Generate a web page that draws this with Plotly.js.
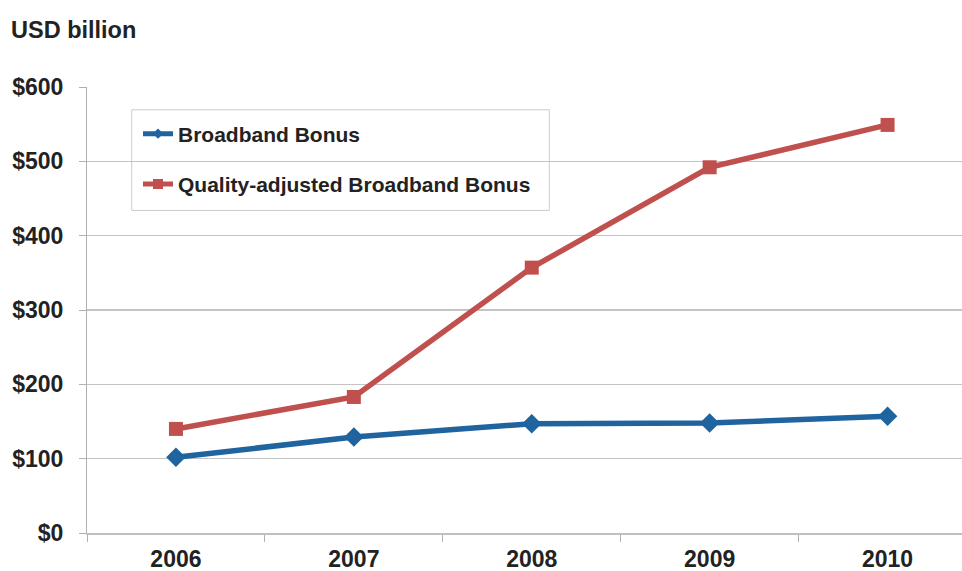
<!DOCTYPE html>
<html>
<head>
<meta charset="utf-8">
<script src="https://cdn.plot.ly/plotly-3.0.1.min.js"></script>
<style>html,body{margin:0;padding:0;background:#fff;}#chart{width:962px;height:571px;}</style>
</head>
<body>
<div id="chart"></div>
<script>
const years = ['2006', '2007', '2008', '2009', '2010'];
const broadbandBonus = [102, 129, 147, 148, 157];
const qualityAdjusted = [140, 183, 357, 492, 549];
const seriesNames = ['Broadband Bonus', 'Quality-adjusted Broadband Bonus'];
const yTicks = [0, 100, 200, 300, 400, 500, 600];
const yTickText = ['$0', '$100', '$200', '$300', '$400', '$500', '$600'];

const FONT = 'Liberation Sans, Arial, sans-serif';
const W = 962, H = 571;
const L = 87, R = 0, T = 86.5, B = 38.3;
const plotW = W - L - R, plotH = H - T - B;
const catW = 177.9;
const BLUE = '#1F639F', RED = '#C0504D';

const traces = [
  {
    x: years, y: broadbandBonus, name: seriesNames[0], type: 'scatter', mode: 'lines+markers',
    line: {color: BLUE, width: 5.5},
    marker: {symbol: 'diamond', size: 15, color: BLUE},
    showlegend: false
  },
  {
    x: years, y: qualityAdjusted, name: seriesNames[1], type: 'scatter', mode: 'lines+markers',
    line: {color: RED, width: 5.5},
    marker: {symbol: 'square', size: 14, color: RED},
    showlegend: false
  },
  {
    x: [null], y: [null], name: seriesNames[0], type: 'scatter', mode: 'lines+markers',
    line: {color: BLUE, width: 5},
    marker: {symbol: 'diamond', size: 8, color: BLUE},
    legendgroup: 'a', showlegend: true, hoverinfo: 'skip'
  },
  {
    x: [null], y: [null], name: seriesNames[1], type: 'scatter', mode: 'lines+markers',
    line: {color: RED, width: 5},
    marker: {symbol: 'square', size: 10, color: RED},
    legendgroup: 'b', showlegend: true, hoverinfo: 'skip'
  }
];

const layout = {
  width: W, height: H,
  margin: {l: L, r: R, t: T, b: B, pad: 0},
  paper_bgcolor: '#fff', plot_bgcolor: '#fff',
  font: {family: FONT, color: '#222'},
  title: {
    text: '<b>USD billion</b>', xref: 'container', yref: 'container',
    x: 11 / W, xanchor: 'left', y: 1 - 30 / H, yanchor: 'middle',
    font: {family: FONT, size: 23.5, color: '#222'}
  },
  showlegend: true,
  legend: {
    x: (138 - L) / plotW, xanchor: 'left',
    y: 1 - (113 - T) / plotH, yanchor: 'top',
    bgcolor: 'rgba(0,0,0,0)', borderwidth: 0,
    traceorder: 'grouped', tracegroupgap: 20,
    font: {family: FONT, size: 21, color: '#222', weight: 'bold'}
  },
  xaxis: {
    type: 'category', range: [-0.5, -0.5 + plotW / catW],
    tickson: 'boundaries', ticks: 'outside', ticklen: 7, tickcolor: '#b0b0b0', tickwidth: 1,
    showgrid: false, showline: true, linecolor: '#c0c0c0', linewidth: 1.5,
    tickfont: {family: FONT, size: 23, color: '#222', weight: 'bold'},
    ticklabelstandoff: 5, fixedrange: true
  },
  yaxis: {
    range: [0, 600], tickmode: 'array', tickvals: yTicks, ticktext: yTickText,
    ticks: 'outside', ticklen: 7, tickcolor: '#b0b0b0', tickwidth: 1,
    showgrid: true, gridcolor: '#c4c4c4', gridwidth: 1.2,
    showline: true, linecolor: '#b0b0b0', linewidth: 1,
    zeroline: false,
    tickfont: {family: FONT, size: 23, color: '#222', weight: 'bold'},
    ticklabelstandoff: 11, fixedrange: true
  },
  shapes: [
    {
      type: 'rect', xref: 'paper', yref: 'paper', layer: 'below',
      x0: (131.7 - L) / plotW, x1: (549.3 - L) / plotW,
      y0: 1 - (210 - T) / plotH, y1: 1 - (109.3 - T) / plotH,
      line: {color: '#cccccc', width: 1}, fillcolor: 'rgba(255,255,255,1)'
    }
  ]
};

Plotly.newPlot('chart', traces, layout, {displayModeBar: false, staticPlot: true});
</script>
</body>
</html>
